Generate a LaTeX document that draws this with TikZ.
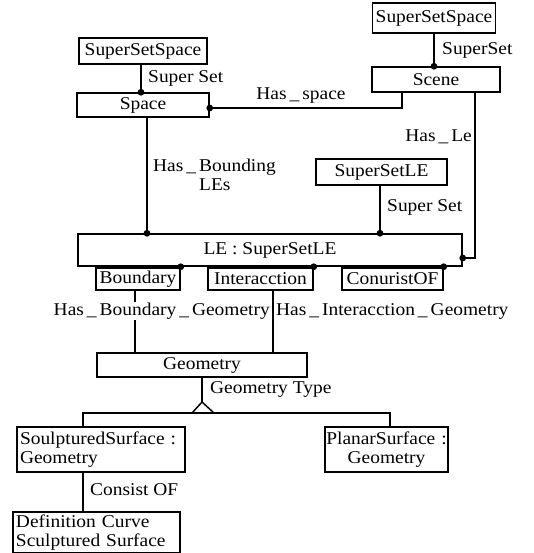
\documentclass[tikz,border=0pt]{standalone}
\usepackage{fontspec}
\setmainfont{Liberation Serif}[FakeStretch=1.08]
\usetikzlibrary{calc}
\newcommand\fsz{\fontsize{18}{18.5}\selectfont}
\begin{document}
\begin{tikzpicture}[x=1pt,y=-1pt,
  box/.style={draw,line width=1.5pt,inner sep=0pt,font=\fsz},
  conn/.style={line width=1.5pt},
  lbl/.style={font=\fsz,inner sep=1pt},
  lblw/.style={lbl,fill=white},
]
\useasboundingbox (0,0) rectangle (534,553);
% boxes
\node[box,minimum width=123pt,minimum height=30pt] (ssR) at (434,18) {SuperSetSpace};
\node[box,minimum width=128pt,minimum height=26pt] (ssL) at (143,51) {SuperSetSpace};
\node[box,minimum width=132pt,minimum height=24pt] (space) at (143,105) {Space};
\node[box,minimum width=128pt,minimum height=25pt] (scene) at (436,79.5) {Scene};
\node[box,minimum width=131pt,minimum height=26pt] (ssLE) at (381.5,172) {SuperSetLE};
\node[box,minimum width=384pt,minimum height=32pt] (LE) at (270,250) {LE : SuperSetLE};
\node[box,minimum width=84pt,minimum height=22pt] (boundary) at (138,279) {Boundary};
\node[box,minimum width=105pt,minimum height=22pt] (interaction) at (260.5,279) {Interacction};
\node[box,minimum width=101pt,minimum height=22pt] (conurist) at (392.5,279) {ConuristOF};
\node[box,minimum width=210pt,minimum height=24pt] (geometry) at (202,365) {Geometry};
\node[box,minimum width=168pt,minimum height=45pt,text width=162pt,align=left] (soul) at (101,449.5) {SoulpturedSurface :\\Geometry};
\node[box,minimum width=123pt,minimum height=45pt,text width=121pt,align=center] (planar) at (386.5,449.5) {PlanarSurface :\\Geometry};
\node[box,minimum width=167pt,minimum height=41pt,text width=161pt,align=left] (defn) at (96.5,532.5) {Definition Curve\\Sculptured Surface};
% helper coordinates
\coordinate (apex) at (202,402);
\coordinate (bl) at (83,413);
\coordinate (br) at (390,413);
% connectors
\draw[conn] ([xshift=-2pt]ssL.south) -- ([xshift=-2pt]space.north);
\fill ([xshift=-2pt]space.north) circle[radius=3.4pt];
\draw[conn] (ssR.south) -- ([xshift=-2pt]scene.north);
\fill ([xshift=-2pt]scene.north) circle[radius=3.4pt];
\draw[conn] ([xshift=-34pt]scene.south) |- ([yshift=-3pt]space.east);
\fill ([yshift=-3pt]space.east) circle[radius=3.4pt];
\draw[conn] ([xshift=39pt]scene.south) |- ([yshift=-8pt]LE.east);
\fill ([yshift=-8pt]LE.east) circle[radius=3.4pt];
\draw[conn] ([xshift=4pt]space.south) -- ([xshift=4pt]space.south |- LE.north);
\fill ([xshift=4pt]space.south |- LE.north) circle[radius=3.4pt];
\draw[conn] ([xshift=-1.5pt]ssLE.south) -- ([xshift=-1.5pt]ssLE.south |- LE.north);
\fill ([xshift=-1.5pt]ssLE.south |- LE.north) circle[radius=3.4pt];
\fill (boundary.north east |- LE.south) circle[radius=3.4pt];
\fill (interaction.north east |- LE.south) circle[radius=3.4pt];
\fill (conurist.north east |- LE.south) circle[radius=3.4pt];
\draw[conn] ([xshift=-3pt]boundary.south) -- ([xshift=-3pt]boundary.south |- geometry.north);
\draw[conn] ([xshift=12.5pt]interaction.south) -- ([xshift=12.5pt]interaction.south |- geometry.north);
\draw[conn] (geometry.south) -- (apex);
\draw[conn,line join=miter] (apex) -- (192,413) -- (214,413) -- cycle;
\draw[conn] (soul.north -| bl) -- (bl) -- (br) -- (planar.north -| br);
\draw[conn] (soul.south -| bl) -- (defn.north -| bl);
% labels
\node[lbl,anchor=west] (lSuperSetL) at (147,78) {Super Set};
\node[lbl,anchor=west] (lSuperSetR) at (441,50) {SuperSet};
\node[lbl] (lHasSpace) at (301,96) {Has\,\_\,space};
\node[lbl,anchor=east] (lHasLe) at (473,137) {Has\,\_\,Le};
\node[lbl,anchor=west,align=left] (lBounding) at (152,175) {Has\,\_\,Bounding\\\hphantom{Has\,\_\,}LEs};
\node[lbl,anchor=west] (lSuperSetLE) at (386,207) {Super Set};
\node[lblw,anchor=east] (lBG) at (271,311) {Has\,\_\,Boundary\,\_\,Geometry};
\node[lbl,anchor=west] (lIG) at (275,311) {Has\,\_\,Interacction\,\_\,Geometry};
\node[lbl,anchor=west] (lGT) at (209,389) {Geometry Type};
\node[lbl,anchor=west] (lCO) at (89,490) {Consist OF};
\end{tikzpicture}
\end{document}
